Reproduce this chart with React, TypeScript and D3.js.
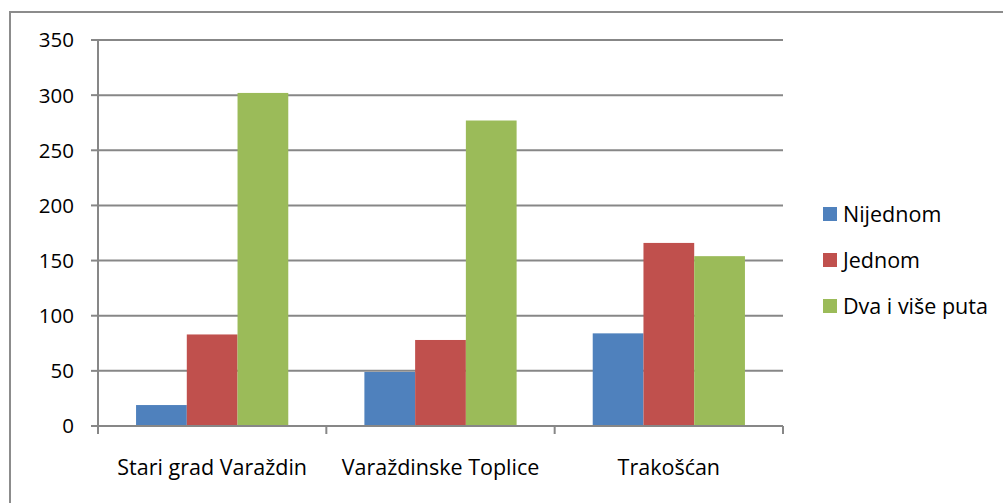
import React from "react";
import * as d3 from "d3";

const categories = ["Stari grad Varaždin", "Varaždinske Toplice", "Trakošćan"];
const seriesNames = ["Nijednom", "Jednom", "Dva i više puta"];
const nijednom = [19, 49, 84];
const jednom = [83, 78, 166];
const dvaIVise = [302, 277, 154];
const yTicks = [0, 50, 100, 150, 200, 250, 300, 350];
const colors = ["#4f81bd", "#c0504d", "#9bbb59"];

const W = 1003;
const H = 503;
const left = 98;
const right = 783;
const top = 40;
const bottom = 426;
const font = "'Open Sans', sans-serif";

export default function App() {
  const series = [nijednom, jednom, dvaIVise];

  const x = d3.scaleBand<string>().domain(categories).range([left, right]).paddingInner(0).paddingOuter(0);
  // gap width 150%: bar = band / (3 + 1.5)
  const barW = x.bandwidth() / 4.5;
  const gap = (x.bandwidth() - barW * 3) / 2;
  const y = d3.scaleLinear().domain([0, 350]).range([bottom, top]);

  const boundaries = [...categories.map((c) => x(c)!), right];

  return (
    <svg width={W} height={H} style={{ position: "absolute", left: 0, top: 0 }}>
      <rect x={0} y={0} width={W} height={H} fill="#fff" />
      <rect x={10} y={12} width={W + 20} height={H + 20} fill="none" stroke="#8c8c8c" strokeWidth={2} />

      {/* gridlines */}
      {yTicks.filter((t) => t > 0).map((t) => (
        <line key={t} x1={left} x2={right} y1={y(t)} y2={y(t)} stroke="#878787" strokeWidth={2} />
      ))}

      {/* bars */}
      {categories.map((c, ci) => (
        <g key={c}>
          {series.map((s, si) => (
            <rect
              key={si}
              x={x(c)! + gap + si * barW}
              y={y(s[ci])}
              width={barW}
              height={bottom - y(s[ci])}
              fill={colors[si]}
            />
          ))}
        </g>
      ))}

      {/* y axis */}
      <line x1={left} x2={left} y1={top} y2={bottom} stroke="#878787" strokeWidth={2} />
      {yTicks.map((t) => (
        <g key={t}>
          <line x1={left - 7} x2={left} y1={y(t)} y2={y(t)} stroke="#878787" strokeWidth={2} />
          <text x={74} y={y(t)} dy="0.36em" textAnchor="end" fontFamily={font} fontSize={20.5} fill="#000">
            {t}
          </text>
        </g>
      ))}

      {/* x axis */}
      <line x1={left} x2={right} y1={bottom} y2={bottom} stroke="#878787" strokeWidth={2} />
      {boundaries.map((b, i) => (
        <line key={i} x1={b} x2={b} y1={bottom} y2={bottom + 8} stroke="#878787" strokeWidth={2} />
      ))}
      {categories.map((c) => (
        <text
          key={c}
          x={x(c)! + x.bandwidth() / 2}
          y={467}
          dy="0.36em"
          textAnchor="middle"
          fontFamily={font}
          fontSize={21.5}
          fill="#000"
        >
          {c}
        </text>
      ))}

      {/* legend */}
      {seriesNames.map((n, i) => (
        <g key={n} transform={`translate(823, ${214 + i * 46})`}>
          <rect x={0} y={-7} width={14} height={14} fill={colors[i]} />
          <text x={20} y={0} dy="0.36em" fontFamily={font} fontSize={21.5} fill="#000">
            {n}
          </text>
        </g>
      ))}
    </svg>
  );
}
